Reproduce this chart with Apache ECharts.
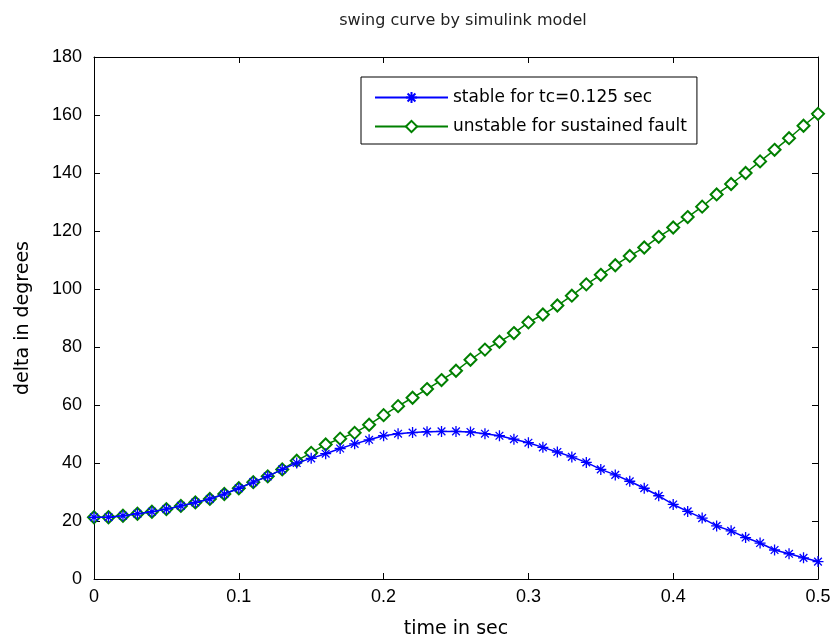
<!DOCTYPE html>
<html>
<head>
<meta charset="utf-8">
<script src="https://cdn.jsdelivr.net/npm/echarts@6/dist/echarts.min.js"></script>
<style>html,body{margin:0;padding:0;background:#fff}#c{width:835px;height:644px}</style>
</head>
<body>
<div id="c"></div>
<script>
var timeSec = [0,0.01,0.02,0.03,0.04,0.05,0.06,0.07,0.08,0.09,0.10,0.11,0.12,0.13,0.14,0.15,0.16,0.17,0.18,0.19,0.20,0.21,0.22,0.23,0.24,0.25,0.26,0.27,0.28,0.29,0.30,0.31,0.32,0.33,0.34,0.35,0.36,0.37,0.38,0.39,0.40,0.41,0.42,0.43,0.44,0.45,0.46,0.47,0.48,0.49,0.50];
var stableDelta = [21.3,21.3,21.8,22.5,23.2,24.1,25.2,26.4,27.6,29.3,31.3,33.4,35.4,37.8,40.0,41.6,43.2,45.0,46.6,48.0,49.4,50.1,50.5,50.8,50.9,50.9,50.7,50.1,49.4,48.2,47.0,45.4,43.8,42.1,40.2,37.8,35.9,33.7,31.3,28.7,25.7,23.3,21.0,18.3,16.6,14.3,12.4,10.0,8.7,7.3,6.0];
var unstableDelta = [21.3,21.3,21.8,22.5,23.2,24.1,25.2,26.4,27.6,29.3,31.3,33.4,35.4,37.8,40.8,43.5,46.4,48.4,50.4,53.2,56.5,59.6,62.5,65.5,68.6,71.8,75.6,79.1,81.8,84.8,88.5,91.2,94.3,97.7,101.6,104.9,108.2,111.4,114.3,118.0,121.2,124.8,128.4,132.6,136.2,140.0,144.0,148.0,152.0,156.3,160.4];
var xTicks = [0,0.1,0.2,0.3,0.4,0.5];
var yTicks = [0,20,40,60,80,100,120,140,160,180];
var seriesNames = ['stable for tc=0.125 sec','unstable for sustained fault'];

function pairs(xs, ys){ return xs.map(function(x,i){ return [x, ys[i]]; }); }
var star = 'path://M5 0L5 10M0 5L10 5M1.5 1.5L8.5 8.5M8.5 1.5L1.5 8.5';
var font = 'Liberation Sans, Arial, sans-serif';
var wide = 'DejaVu Sans, sans-serif';
var chart = echarts.init(document.getElementById('c'));
var axLine = {show:true, onZero:false, lineStyle:{color:'#000', width:1}};
var tick = {show:true, inside:true, length:6, lineStyle:{color:'#000'}};
chart.setOption({
  animation:false,
  backgroundColor:'#fff',
  title:{text:'swing curve by simulink model', left:458, textAlign:'center', top:8,
    textStyle:{fontFamily:wide, fontSize:16, fontWeight:'normal', color:'#222'}},
  legend:{data:seriesNames, orient:'vertical', left:361, top:77,
    backgroundColor:'#fff', borderColor:'#000', borderWidth:1,
    padding:[12,10,9,13], itemGap:12, itemWidth:73, itemHeight:14,
    textStyle:{fontFamily:wide, fontSize:17, color:'#000'}},
  grid:{left:94, right:17, top:57, bottom:64, containLabel:false},
  xAxis:[{type:'value', min:0, max:0.5, interval:0.1, position:'bottom',
    name:'time in sec', nameLocation:'middle', nameGap:41,
    nameTextStyle:{fontFamily:wide, fontSize:19, color:'#000'},
    axisLine:axLine, axisTick:tick, splitLine:{show:false},
    axisLabel:{fontFamily:font, fontSize:18, color:'#000', margin:9,
      formatter:function(v){ var r=Math.round(v*10)/10; return xTicks.indexOf(r)>=0 ? String(r) : ''; }}},
    {type:'value', min:0, max:0.5, interval:0.1, position:'top',
    axisLine:axLine, axisTick:tick, splitLine:{show:false}, axisLabel:{show:false}}],
  yAxis:[{type:'value', min:0, max:180, interval:20, position:'left',
    name:'delta in degrees', nameLocation:'middle', nameGap:61, nameRotate:90,
    nameTextStyle:{fontFamily:wide, fontSize:19, color:'#000'},
    axisLine:axLine, axisTick:tick, splitLine:{show:false},
    axisLabel:{fontFamily:font, fontSize:18, color:'#000', margin:12}},
    {type:'value', min:0, max:180, interval:20, position:'right',
    axisLine:axLine, axisTick:tick, splitLine:{show:false}, axisLabel:{show:false}}],
  series:[
    {name:seriesNames[1], type:'line', data:pairs(timeSec, unstableDelta),
      symbol:'emptyDiamond', symbolSize:12, z:2,
      lineStyle:{color:'#008000', width:1.5},
      itemStyle:{color:'#008000', borderColor:'#008000', borderWidth:1}},
    {name:seriesNames[0], type:'line', data:pairs(timeSec, stableDelta),
      symbol:star, symbolSize:11, symbolKeepAspect:true, z:3,
      lineStyle:{color:'#0000ff', width:1.5},
      itemStyle:{color:'#0000ff', borderColor:'#0000ff', borderWidth:1.3}}
  ]
});
</script>
</body>
</html>
